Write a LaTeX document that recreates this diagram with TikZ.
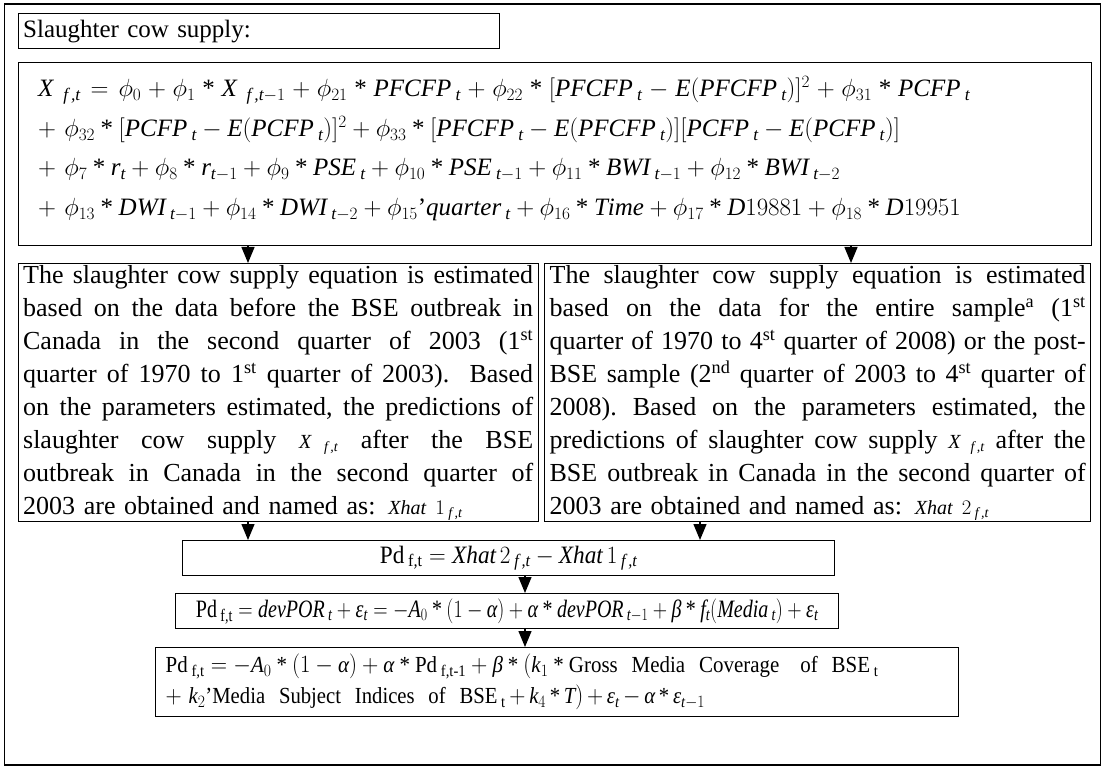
\documentclass[tikz,border=0pt]{standalone}
\usepackage{amsmath}
\usepackage{fontspec}
\setmainfont{Liberation Serif}
\usetikzlibrary{arrows.meta}
\DeclareSymbolFont{letters}{TU}{\rmdefault}{m}{it}
\DeclareSymbolFont{operators}{TU}{\rmdefault}{m}{n}
\DeclareSymbolFont{cmlet}{OML}{cmm}{m}{it}
\Umathchardef\phi="0 \symcmlet "1E
\Umathchardef\varepsilon="0 \symletters "03B5
\Umathchardef\alpha="0 \symletters "03B1
\Umathchardef\beta="0 \symletters "03B2
\Umathcode`\,="6 \symletters "002C
\Umathcode`\.="0 \symletters "002E
\newcommand\tms{\mathbin{\mbox{*}}}
\newcommand\jl[2]{\leavevmode\hbox to #1{\frenchspacing\spaceskip=0.25em plus 1em minus 0.08em\relax #2}}
\newcommand\smath[1]{{\fontsize{20}{20}\selectfont$#1$}}
\begin{document}
\begin{tikzpicture}[x=1pt,y=-1pt,
  box/.style={draw,line width=1.3pt,anchor=north west,inner ysep=0pt},
  arr/.style={line width=1.3pt,-{Triangle[length=16pt,width=13pt]}},
  font=\fontsize{25}{30}\selectfont]
\useasboundingbox (0,0) rectangle (1104,767);
\draw[line width=1.5pt] (4.5,4) rectangle (1100.5,765);

\node[box,minimum width=481,minimum height=35,text width=471,inner xsep=5,align=left] (T) at (17.5,13) {Slaughter cow supply:};

\node[box,minimum width=1073,minimum height=183,text width=1033,inner xsep=20,align=left,font=\fontsize{25}{39.5}\selectfont] (E) at (17.5,62) {%
\leavevmode\hbox to 932pt{$X\;_{f\,,t}=\phi_0+\phi_1\tms X\;_{f\,,t-1}+\phi_{21}\tms PFCFP\,_t+\phi_{22}\tms[PFCFP\,_t-E(PFCFP\,_t)]^2+\phi_{31}\tms PCFP\,_t$}\\
$+\ \phi_{32}\tms[PCFP\,_t-E(PCFP\,_t)]^2+\phi_{33}\tms[PFCFP\,_t-E(PFCFP\,_t)][PCFP\,_t-E(PCFP\,_t)]$\\
$+\ \phi_7\tms r_t+\phi_8\tms r_{t-1}+\phi_9\tms PSE\,_t+\phi_{10}\tms PSE\,_{t-1}+\phi_{11}\tms BWI\,_{t-1}+\phi_{12}\tms BWI\,_{t-2}$\\
$+\ \phi_{13}\tms DWI\,_{t-1}+\phi_{14}\tms DWI\,_{t-2}+\phi_{15}\mbox{'}quarter\,_t+\phi_{16}\tms Time+\phi_{17}\tms D19881+\phi_{18}\tms D19951$\rule[-16pt]{0pt}{1pt}};

\node[box,minimum width=520,minimum height=258,text width=510,inner xsep=5,align=left,font=\fontsize{26}{33}\selectfont] (L) at (17.5,263) {%
\jl{510pt}{The slaughter cow supply equation is estimated}\\
\jl{510pt}{based on the data before the BSE outbreak in}\\
\jl{510pt}{Canada in the second quarter of 2003 (1\textsuperscript{st}}\\
\jl{510pt}{quarter of 1970 to 1\textsuperscript{st} quarter of 2003).\ \ Based}\\
\jl{510pt}{on the parameters estimated, the predictions of}\\
\jl{510pt}{slaughter cow supply \smath{X\;\,_{f\,,t}} after the BSE}\\
\jl{510pt}{outbreak in Canada in the second quarter of}\\
2003 are obtained and named as: \smath{Xhat\;\,1\,_{f\,,t}}};

\node[box,minimum width=546,minimum height=258,text width=536,inner xsep=5,align=left,font=\fontsize{26}{33}\selectfont] (R) at (544,263) {%
\jl{536pt}{The slaughter cow supply equation is estimated}\\
\jl{536pt}{based on the data for the entire sample\textsuperscript{a} (1\textsuperscript{st}}\\
\jl{536pt}{quarter of 1970 to 4\textsuperscript{st} quarter of 2008) or the post-}\\
\jl{536pt}{BSE sample (2\textsuperscript{nd} quarter of 2003 to 4\textsuperscript{st} quarter of}\\
\jl{536pt}{2008). Based on the parameters estimated, the}\\
\jl{536pt}{predictions of slaughter cow supply \smath{X\;\,_{f\,,t}} after the}\\
\jl{536pt}{BSE outbreak in Canada in the second quarter of}\\
2003 are obtained and named as: \smath{Xhat\;\,2\,_{f\,,t}}};

\node[box,minimum width=652,minimum height=35,inner xsep=5] (P) at (182,540) {\scalebox{0.93}[1]{$\mathrm{Pd}\,_{\mathrm{f,t}}=Xhat\,2\,_{f\,,t}-Xhat\,1\,_{f\,,t}$}};

\node[box,minimum width=663,minimum height=35,inner xsep=5] (Q) at (175,593) {\scalebox{0.8}[1]{$\mathrm{Pd}\,_{\mathrm{f,t}}=devPOR\,_t+\varepsilon_t=-A_0\tms(1-\alpha)+\alpha\tms devPOR\,_{t-1}+\beta\tms f_t(Media\,_t)+\varepsilon_t$}};

\node[box,minimum width=803,minimum height=69,text width=783,inner xsep=10,align=left,font=\fontsize{23}{31}\selectfont] (B) at (155,647) {%
\scalebox{0.91}[1]{$\mathrm{Pd}\,_{\mathrm{f,t}}=-A_0\tms(1-\alpha)+\alpha\tms\mathrm{Pd}\,_{\text{f,t-1}}+\beta\tms(k_1\tms\mbox{Gross\ \ Media\ \ Coverage\ \ \ of\ \ BSE}\,_{\mathrm{t}}$}\\
\scalebox{0.9}[1]{\medmuskip=3mu$+\ k_2\mbox{'Media\ \ Subject\ \ Indices\ \ of\ \ BSE}\,_{\mathrm{t}}+k_4\tms T)+\varepsilon_t-\alpha\tms\varepsilon_{t-1}$}};

\draw[arr] (248,0 |- E.south) -- (248,0 |- L.north);
\draw[arr] (851,0 |- E.south) -- (851,0 |- R.north);
\draw[arr] (248,0 |- L.south) -- (248,0 |- P.north);
\draw[arr] (700,0 |- R.south) -- (700,0 |- P.north);
\draw[arr] (525,0 |- P.south) -- (525,0 |- Q.north);
\draw[arr] (525,0 |- Q.south) -- (525,0 |- B.north);
\end{tikzpicture}
\end{document}
